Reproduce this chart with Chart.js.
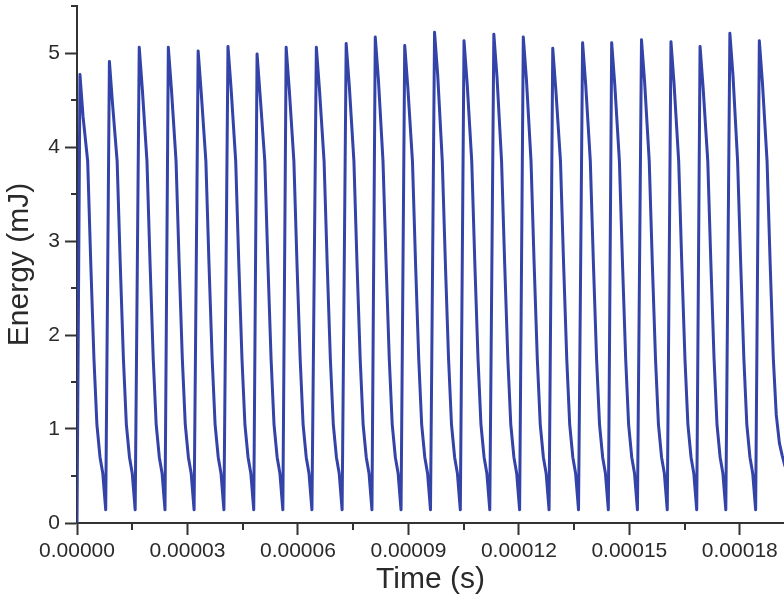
<!DOCTYPE html>
<html>
<head>
<meta charset="utf-8">
<script src="https://cdn.jsdelivr.net/npm/chart.js@4.4.1/dist/chart.umd.min.js"></script>
<style>
  html, body { margin: 0; padding: 0; background: #fff; }
  #wrap { width: 784px; height: 603px; }
</style>
</head>
<body>
<div id="wrap"><canvas id="energyChart"></canvas></div>
<script>
// time in microseconds, one row per pulse (peak ... trough)
const timeUs = [
  0.0,
  0.8, 1.65, 2.9, 3.75, 4.6, 5.4, 6.25, 7.0, 7.8,
  8.8, 9.65, 10.9, 11.75, 12.6, 13.4, 14.25, 15.0, 15.8,
  16.9, 17.75, 19.0, 19.85, 20.7, 21.5, 22.35, 23.1, 23.9,
  24.8, 25.65, 26.9, 27.75, 28.6, 29.4, 30.25, 31.0, 31.8,
  32.9, 33.75, 35.0, 35.85, 36.7, 37.5, 38.35, 39.1, 39.9,
  41.0, 41.85, 43.1, 43.95, 44.8, 45.6, 46.45, 47.2, 48.0,
  48.9, 49.75, 51.0, 51.85, 52.7, 53.5, 54.35, 55.1, 55.9,
  56.8, 57.65, 58.9, 59.75, 60.6, 61.4, 62.25, 63.0, 63.8,
  65.0, 65.85, 67.1, 67.95, 68.8, 69.6, 70.45, 71.2, 72.0,
  73.1, 73.95, 75.2, 76.05, 76.9, 77.7, 78.55, 79.3, 80.1,
  81.0, 81.85, 83.1, 83.95, 84.8, 85.6, 86.45, 87.2, 88.0,
  89.0, 89.85, 91.1, 91.95, 92.8, 93.6, 94.45, 95.2, 96.0,
  97.1, 97.95, 99.2, 100.05, 100.9, 101.7, 102.55, 103.3, 104.1,
  105.1, 105.95, 107.2, 108.05, 108.9, 109.7, 110.55, 111.3, 112.1,
  113.2, 114.05, 115.3, 116.15, 117.0, 117.8, 118.65, 119.4, 120.2,
  121.2, 122.05, 123.3, 124.15, 125.0, 125.8, 126.65, 127.4, 128.2,
  129.2, 130.05, 131.3, 132.15, 133.0, 133.8, 134.65, 135.4, 136.2,
  137.3, 138.15, 139.4, 140.25, 141.1, 141.9, 142.75, 143.5, 144.3,
  145.2, 146.05, 147.3, 148.15, 149.0, 149.8, 150.65, 151.4, 152.2,
  153.3, 154.15, 155.4, 156.25, 157.1, 157.9, 158.75, 159.5, 160.3,
  161.3, 162.15, 163.4, 164.25, 165.1, 165.9, 166.75, 167.5, 168.3,
  169.2, 170.05, 171.3, 172.15, 173.0, 173.8, 174.65, 175.4, 176.2,
  177.3, 178.15, 179.4, 180.25, 181.1, 181.9, 182.75, 183.5, 184.3,
  185.3, 186.15, 187.4, 188.25, 189.1, 189.9, 190.75, 191.5, 192.3
];

// energy in mJ, same layout as timeUs
const energyMJ = [
  0.0,
  4.77, 4.32, 3.85, 2.75, 1.75, 1.05, 0.70, 0.53, 0.14,
  4.91, 4.46, 3.85, 2.75, 1.75, 1.05, 0.70, 0.53, 0.14,
  5.06, 4.61, 3.85, 2.75, 1.75, 1.05, 0.70, 0.53, 0.14,
  5.06, 4.61, 3.85, 2.75, 1.75, 1.05, 0.70, 0.53, 0.14,
  5.02, 4.57, 3.85, 2.75, 1.75, 1.05, 0.70, 0.53, 0.14,
  5.07, 4.62, 3.85, 2.75, 1.75, 1.05, 0.70, 0.53, 0.14,
  4.99, 4.54, 3.85, 2.75, 1.75, 1.05, 0.70, 0.53, 0.14,
  5.06, 4.61, 3.85, 2.75, 1.75, 1.05, 0.70, 0.53, 0.14,
  5.06, 4.61, 3.85, 2.75, 1.75, 1.05, 0.70, 0.53, 0.14,
  5.10, 4.65, 3.85, 2.75, 1.75, 1.05, 0.70, 0.53, 0.14,
  5.17, 4.72, 3.85, 2.75, 1.75, 1.05, 0.70, 0.53, 0.14,
  5.08, 4.63, 3.85, 2.75, 1.75, 1.05, 0.70, 0.53, 0.14,
  5.22, 4.77, 3.85, 2.75, 1.75, 1.05, 0.70, 0.53, 0.14,
  5.13, 4.68, 3.85, 2.75, 1.75, 1.05, 0.70, 0.53, 0.14,
  5.20, 4.75, 3.85, 2.75, 1.75, 1.05, 0.70, 0.53, 0.14,
  5.17, 4.72, 3.85, 2.75, 1.75, 1.05, 0.70, 0.53, 0.14,
  5.05, 4.60, 3.85, 2.75, 1.75, 1.05, 0.70, 0.53, 0.14,
  5.11, 4.66, 3.85, 2.75, 1.75, 1.05, 0.70, 0.53, 0.14,
  5.11, 4.66, 3.85, 2.75, 1.75, 1.05, 0.70, 0.53, 0.14,
  5.14, 4.69, 3.85, 2.75, 1.75, 1.05, 0.70, 0.53, 0.14,
  5.12, 4.67, 3.85, 2.75, 1.75, 1.05, 0.70, 0.53, 0.14,
  5.07, 4.62, 3.85, 2.75, 1.75, 1.05, 0.70, 0.53, 0.14,
  5.21, 4.76, 3.85, 2.75, 1.75, 1.05, 0.70, 0.53, 0.14,
  5.13, 4.68, 3.85, 2.75, 1.75, 1.15, 0.85, 0.72, 0.60
];

const xMajorTicks = [0, 0.00003, 0.00006, 0.00009, 0.00012, 0.00015, 0.00018];
const xMinorTicks = [0.000015, 0.000045, 0.000075, 0.000105, 0.000135, 0.000165];
const yMinorTicks = [0.5, 1.5, 2.5, 3.5, 4.5, 5.5];

const axisColor = '#333333';
const textColor = '#2a2a2a';
const lineColor = '#3343a8';

// short ticks between the labelled ones
const minorTickPlugin = {
    id: 'minorTicks',
    afterDraw(chart) {
        const { ctx, scales: { x, y } } = chart;
        ctx.save();
        ctx.strokeStyle = axisColor;
        ctx.lineWidth = 2;
        ctx.beginPath();
        xMinorTicks.forEach(v => {
            const px = Math.round(x.getPixelForValue(v));
            ctx.moveTo(px, y.bottom);
            ctx.lineTo(px, y.bottom + 7);
        });
        yMinorTicks.forEach(v => {
            const py = Math.round(y.getPixelForValue(v));
            ctx.moveTo(x.left, py);
            ctx.lineTo(x.left - 6, py);
        });
        ctx.stroke();
        ctx.restore();
    }
};

const points = timeUs.map((t, i) => ({ x: t * 1e-6, y: energyMJ[i] }));

new Chart(document.getElementById('energyChart'), {
    type: 'line',
    data: {
        datasets: [{
            data: points,
            borderColor: lineColor,
            borderWidth: 3,
            pointRadius: 0,
            borderJoinStyle: 'round',
            tension: 0,
            fill: false
        }]
    },
    options: {
        responsive: true,
        maintainAspectRatio: false,
        animation: false,
        layout: { padding: { left: 0, right: 0, top: 6, bottom: 0 } },
        plugins: {
            legend: { display: false },
            tooltip: { enabled: false }
        },
        scales: {
            x: {
                type: 'linear',
                min: 0,
                max: 0.000192,
                afterFit: (scale) => {
                    scale.height = 80;
                    scale.paddingLeft = 0;
                    scale.paddingRight = 0;
                },
                afterBuildTicks: (scale) => {
                    scale.ticks = xMajorTicks.map(v => ({ value: v }));
                },
                border: { display: true, color: axisColor, width: 2 },
                grid: {
                    drawOnChartArea: false,
                    drawTicks: true,
                    tickLength: 12,
                    tickWidth: 2,
                    tickColor: axisColor,
                    color: axisColor
                },
                ticks: {
                    autoSkip: false,
                    maxRotation: 0,
                    padding: 4,
                    color: textColor,
                    font: { family: 'Liberation Sans', size: 21 },
                    callback: (v) => Number(v).toFixed(5)
                },
                title: {
                    display: true,
                    text: 'Time (s)',
                    color: textColor,
                    font: { family: 'Liberation Sans', size: 30 },
                    padding: { top: 0, bottom: 5 }
                }
            },
            y: {
                min: 0,
                max: 5.5,
                afterFit: (scale) => {
                    scale.width = 77;
                    scale.paddingTop = 0;
                    scale.paddingBottom = 0;
                },
                border: { display: true, color: axisColor, width: 2 },
                grid: {
                    drawOnChartArea: false,
                    drawTicks: true,
                    tickLength: 12,
                    tickWidth: 2,
                    tickColor: axisColor,
                    color: axisColor
                },
                ticks: {
                    stepSize: 1,
                    includeBounds: false,
                    padding: 5,
                    color: textColor,
                    font: { family: 'Liberation Sans', size: 21 }
                },
                title: {
                    display: true,
                    text: 'Energy (mJ)',
                    color: textColor,
                    font: { family: 'Liberation Sans', size: 30 },
                    padding: { top: 2, bottom: 0 }
                }
            }
        }
    },
    plugins: [minorTickPlugin]
});
</script>
</body>
</html>
